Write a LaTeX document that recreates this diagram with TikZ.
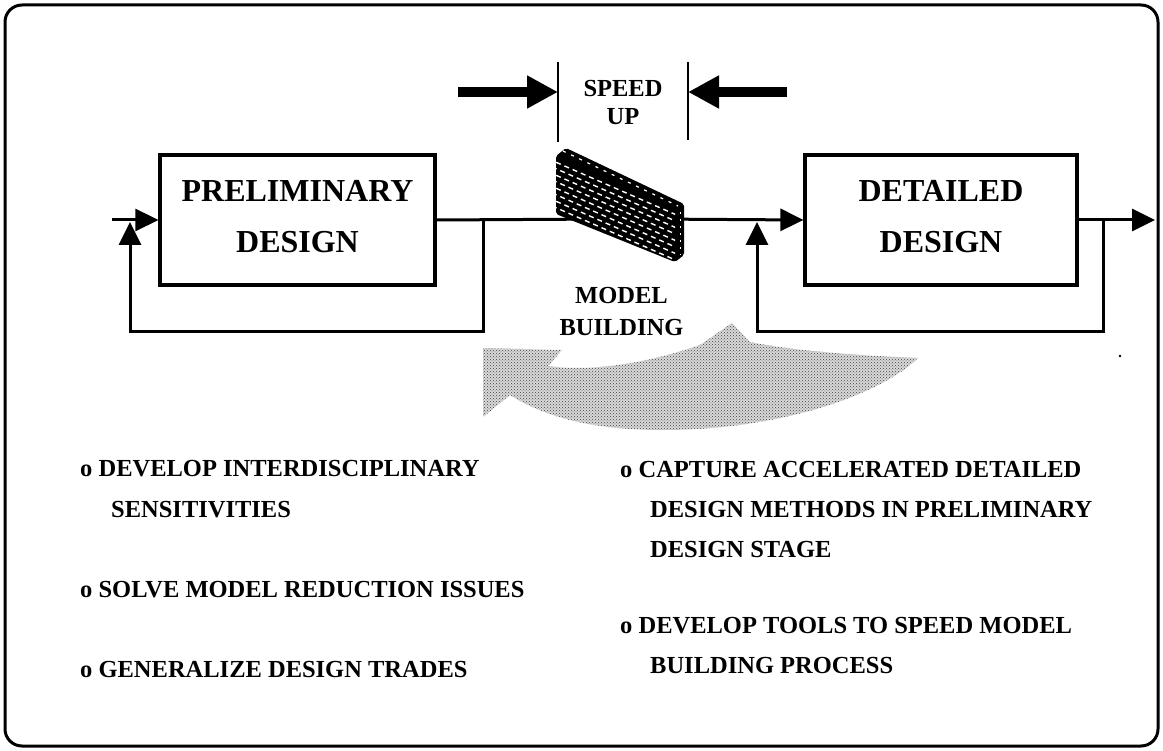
\documentclass[tikz,border=0pt]{standalone}
\usepackage{fontspec}
\setmainfont{Liberation Serif}
\usetikzlibrary{arrows.meta,patterns,calc}
\begin{document}
\begin{tikzpicture}[x=1pt,y=-1pt,
  wire/.style={line width=3pt},
  flow/.style={line width=3pt,-{Triangle[length=23pt,width=22pt]}},
  push/.style={line width=10pt,-{Triangle[length=31pt,width=31pt]}},
  gate/.style={line width=2.5pt},
  blockbox/.style={draw,line width=3.2pt,minimum height=130pt,inner sep=0pt,align=center,
    font=\fontsize{32}{51}\selectfont\bfseries},
  lbl/.style={inner sep=0pt,align=center,font=\fontsize{24.5}{28}\selectfont\bfseries},
  item/.style={inner sep=0pt,anchor=base west,font=\fontsize{24.5}{30}\selectfont\bfseries}]

\useasboundingbox (0,0) rectangle (1163,751);
\fill[white] (0,0) rectangle (1163,751);

% outer frame
\draw[line width=3pt,rounded corners=17pt] (5,5) rectangle (1158,746);

% design stages (the bottom rule lifts the two lines a little)
\node[blockbox,minimum width=275pt] (prelim) at (297.5,220) {PRELIMINARY\\DESIGN\rule[-8pt]{0pt}{8pt}};
\node[blockbox,minimum width=272pt] (detail) at (941,220) {DETAILED\\DESIGN\rule[-8pt]{0pt}{8pt}};

% feed points and junctions
\coordinate (inL)    at (112,220);
\coordinate (fbLtap) at (483,220);
\coordinate (fbLin)  at (130,222);
\coordinate (wallin) at (610,219);
\coordinate (wallout) at (650,219);
\coordinate (fbRtap) at (1103,220);
\coordinate (fbRin)  at (757,222);
\coordinate (outR)   at (1155,220);

% main flow
\draw[flow] (inL) -- (prelim.west);
\draw[wire] (prelim.east) -- (wallin);
\draw[flow] (wallout) -- (detail.west);
\draw[flow] (detail.east) -- (outR);

% feedback loops
\draw[flow] (fbLtap) -- ++(0,112) -| (fbLin);
\draw[flow] (fbRtap) -- ++(0,112) -| (fbRin);

% model-building wall
\fill[black,rounded corners=2pt] (556,156) -- (566,148) -- (684,204) -- (684,255) -- (675,262) -- (556,214) -- cycle;
\begin{scope}
  \clip (556,156) -- (675,212) -- (675,262) -- (556,214) -- cycle;
  \foreach \i [evaluate=\i as \ph using {mod(\i,2)*4.5}] in {1,...,8} {
    \draw[white,line width=1.4pt,dash pattern=on 5pt off 4pt,dash phase=\ph pt]
      (552,{156+6.5*\i-2}) -- (680,{212+6.5*\i-2});
  }
\end{scope}
\draw[white,line width=1.2pt,dash pattern=on 3pt off 6pt] (563,151) -- (678,206);
\draw[white,line width=1pt,dash pattern=on 2pt off 5pt] (680,212) -- (680,255);

% speed-up gate
\node[lbl] (speed) at (623,103) {SPEED\\UP};
\coordinate (gateL1) at (558,62);
\coordinate (gateL2) at (558,142);
\coordinate (gateR1) at (688,62);
\coordinate (gateR2) at (688,140);
\draw[gate] (gateL1) -- (gateL2);
\draw[gate] (gateR1) -- (gateR2);
\coordinate (pushL) at (458,92);
\coordinate (pushR) at (787,92);
\draw[push] (pushL) -- (pushL -| gateL1);
\draw[push] (pushR) -- (pushR -| gateR1);

\node[lbl,font=\fontsize{24.5}{32}\selectfont\bfseries] (mb) at (621.5,312) {MODEL\\BUILDING};

% returning arrow, halftone grey
\path[preaction={fill=black!15},pattern=crosshatch dots,pattern color=black!75]
  (483,348) -- (562,350) -- (548,366)
  .. controls (590,372) and (645,364) .. (700,345)
  -- (732,323) -- (750,342)
  .. controls (800,352) and (870,356) .. (918,358)
  .. controls (880,395) and (780,430) .. (663,430)
  .. controls (600,430) and (550,420) .. (510,395)
  -- (483,417) -- cycle;

% left column
\node[item] (l1) at (80,476)  {o DEVELOP INTERDISCIPLINARY};
\node[item] (l2) at (111,517) {SENSITIVITIES};
\node[item] (l3) at (80,597)  {o SOLVE MODEL REDUCTION ISSUES};
\node[item] (l4) at (80,677)  {o GENERALIZE DESIGN TRADES};

% right column
\node[item] (r1) at (620,477) {o CAPTURE ACCELERATED DETAILED};
\node[item] (r2) at (650,517) {DESIGN METHODS IN PRELIMINARY};
\node[item] (r3) at (650,557) {DESIGN STAGE};
\node[item] (r4) at (620,633) {o DEVELOP TOOLS TO SPEED MODEL};
\node[item] (r5) at (650,673) {BUILDING PROCESS};

\fill (1120,356) circle (1.3pt);
\end{tikzpicture}
\end{document}
